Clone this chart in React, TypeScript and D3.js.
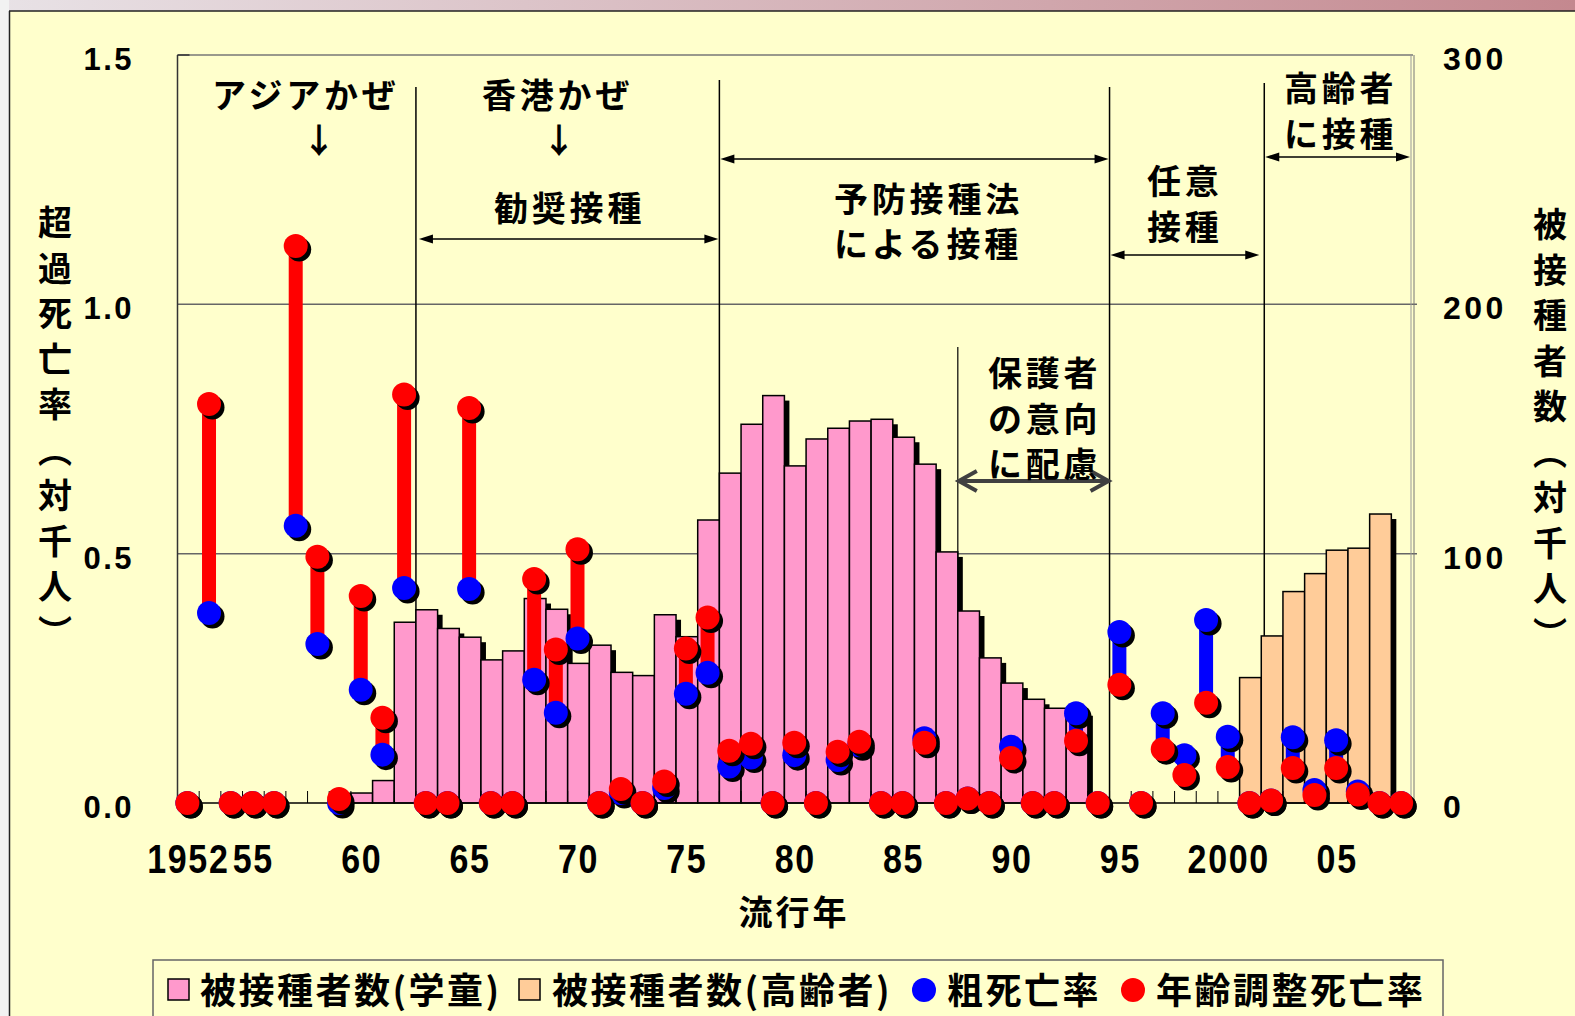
import React from 'react';
import * as d3 from 'd3';

// 流行年
const years = [
  1952, 1953, 1954, 1955, 1956, 1957, 1958, 1959, 1960, 1961,
  1962, 1963, 1964, 1965, 1966, 1967, 1968, 1969, 1970, 1971,
  1972, 1973, 1974, 1975, 1976, 1977, 1978, 1979, 1980, 1981,
  1982, 1983, 1984, 1985, 1986, 1987, 1988, 1989, 1990, 1991,
  1992, 1993, 1994, 1995, 1996, 1997, 1998, 1999, 2000, 2001,
  2002, 2003, 2004, 2005, 2006, 2007, 2008,
];

// 被接種者数(学童) 対千人
const schoolVaccinated = [
  null, null, null, null, null, null, null, null, 4, 9,
  72.5, 77.5, 70, 66.5, 57.4, 61, 82, 77.7, 56, 63.3,
  52.4, 51.1, 75.5, 66.7, 113.5, 132.3, 151.9, 163.4, 135.2, 146,
  150.3, 153.2, 153.9, 146.7, 135.9, 100.7, 77, 58.2, 48.1, 41.6,
  38, 37, null, null, null, null, null, null, null, null,
  null, null, null, null, null, null, null,
];

// 被接種者数(高齢者) 対千人
const elderlyVaccinated = [
  null, null, null, null, null, null, null, null, null, null,
  null, null, null, null, null, null, null, null, null, null,
  null, null, null, null, null, null, null, null, null, null,
  null, null, null, null, null, null, null, null, null, null,
  null, null, null, null, null, null, null, null, null, 50.3,
  67, 84.8, 92, 101.4, 102.2, 115.9, null,
];

// 粗死亡率
const crudeRate = [
  0, 0.381, 0, 0, 0, 0.556, 0.319, 0, 0.227, 0.097,
  0.431, 0, 0, 0.429, 0, 0, 0.247, 0.181, 0.33, 0,
  0.02, 0, 0.03, 0.219, 0.261, 0.073, 0.091, 0, 0.096, 0,
  0.086, 0.116, 0, 0, 0.13, 0, 0.009, 0, 0.113, 0,
  0, 0.18, 0, 0.343, 0, 0.18, 0.096, 0.367, 0.133, 0,
  0.005, 0.132, 0.026, 0.126, 0.023, 0, 0,
];

// 年齢調整死亡率
const adjustedRate = [
  0, 0.8, 0, 0, 0, 1.117, 0.494, 0.008, 0.415, 0.171,
  0.819, 0, 0, 0.792, 0, 0, 0.449, 0.308, 0.509, 0,
  0.028, 0, 0.043, 0.31, 0.372, 0.105, 0.119, 0, 0.121, 0,
  0.103, 0.123, 0, 0, 0.121, 0, 0.009, 0, 0.09, 0,
  0, 0.125, 0, 0.237, 0, 0.108, 0.056, 0.201, 0.072, 0,
  0.005, 0.07, 0.016, 0.07, 0.017, 0, 0,
];

const xTickYears = [1952, 1955, 1960, 1965, 1970, 1975, 1980, 1985, 1990, 1995, 2000, 2005];
const xTickLabels = ['1952', '55', '60', '65', '70', '75', '80', '85', '90', '95', '2000', '05'];
const leftTicks = [0, 0.5, 1.0, 1.5];
const rightTicks = [0, 100, 200, 300];
const leftTitle = ['超', '過', '死', '亡', '率', '︵', '対', '千', '人', '︶'];
const rightTitle = ['被', '接', '種', '者', '数', '︵', '対', '千', '人', '︶'];

const W = 1575;
const H = 1016;
const plot = { left: 177.5, right: 1413, top: 55, bottom: 803 };
const JP = '"Noto Sans CJK JP", "Noto Sans CJK SC", sans-serif';
const NUM = '"Liberation Sans", Arial, sans-serif';
const RED = '#FF0000';
const BLUE = '#0000FF';

const x = d3.scaleBand<number>().domain(years).range([plot.left, plot.right]).padding(0);
const yL = d3.scaleLinear().domain([0, 1.5]).range([plot.bottom, plot.top]);
const yR = d3.scaleLinear().domain([0, 300]).range([plot.bottom, plot.top]);
const bw = x.bandwidth();
const cx = (yr: number) => (x(yr) as number) + bw / 2 - 1;

const Arrow2 = ({ x1, x2, y }: { x1: number; x2: number; y: number }) => (
  <g>
    <line x1={x1 + 6} x2={x2 - 6} y1={y} y2={y} stroke="#000" strokeWidth={1.5} />
    <path d={`M${x1},${y} L${x1 + 14},${y - 4.5} L${x1 + 14},${y + 4.5} Z`} fill="#000" />
    <path d={`M${x2},${y} L${x2 - 14},${y - 4.5} L${x2 - 14},${y + 4.5} Z`} fill="#000" />
  </g>
);

const Label = ({ lines, lx, ly }: { lines: string[]; lx: number; ly: number[] }) => (
  <g>
    {lines.map((s, i) => (
      <text key={i} x={lx} y={ly[i] + 13} fontFamily={JP} fontWeight={700} fontSize={34} letterSpacing={3.8} fill="#000">
        {s}
      </text>
    ))}
  </g>
);

export default function App() {
  const bars: { year: number; v: number; fill: string }[] = [];
  years.forEach((yr, i) => {
    if (schoolVaccinated[i] != null) bars.push({ year: yr, v: schoolVaccinated[i] as number, fill: '#FF99CC' });
    if (elderlyVaccinated[i] != null) bars.push({ year: yr, v: elderlyVaccinated[i] as number, fill: '#FFCC99' });
  });

  const xl = (yr: number) => x(yr) as number;

  return (
    <svg width={W} height={H} style={{ position: 'absolute', left: 0, top: 0 }}>
      <defs>
        <linearGradient id="topStrip" x1="0" x2="1" y1="0" y2="0">
          <stop offset="0" stopColor="#E8E2E6" />
          <stop offset="1" stopColor="#C4888F" />
        </linearGradient>
      </defs>
      <rect width={W} height={H} fill="#FFFFCC" />
      <rect width={W} height={11} fill="url(#topStrip)" />
      <rect width={9} height={H} fill="#F2F2F2" />
      <line x1={9} x2={W} y1={11} y2={11} stroke="#222" strokeWidth={1.5} />
      <line x1={9.5} x2={9.5} y1={11} y2={H} stroke="#222" strokeWidth={1.5} />

      {/* frame and grid */}
      <line x1={plot.left} x2={plot.right} y1={plot.top} y2={plot.top} stroke="#777" strokeWidth={1.5} />
      {[0.5, 1.0].map((v) => (
        <line key={v} x1={plot.left} x2={plot.right + 4} y1={yL(v)} y2={yL(v)} stroke="#666" strokeWidth={1.5} />
      ))}
      <line x1={plot.left} x2={plot.left} y1={plot.top} y2={plot.bottom} stroke="#333" strokeWidth={1.5} />
      <line x1={plot.left} x2={plot.left + 12} y1={plot.top} y2={plot.top} stroke="#333" strokeWidth={1.5} />
      <line x1={plot.right - 2} x2={plot.right - 2} y1={plot.top} y2={plot.bottom} stroke="#999" strokeWidth={1} />
      <line x1={plot.right + 1} x2={plot.right + 1} y1={plot.top} y2={plot.bottom} stroke="#777" strokeWidth={1} />

      {/* vertical period separators */}
      <line x1={xl(1963)} x2={xl(1963)} y1={87} y2={plot.bottom} stroke="#000" strokeWidth={1.5} />
      <line x1={xl(1977)} x2={xl(1977)} y1={80} y2={plot.bottom} stroke="#000" strokeWidth={1.5} />
      <line x1={xl(1988)} x2={xl(1988)} y1={347} y2={plot.bottom} stroke="#000" strokeWidth={1.2} />
      <line x1={xl(1995)} x2={xl(1995)} y1={87} y2={plot.bottom} stroke="#000" strokeWidth={1.5} />
      <line x1={xl(2002) + 3} x2={xl(2002) + 3} y1={83} y2={plot.bottom} stroke="#000" strokeWidth={1.5} />

      {/* bars */}
      {bars.map((b) => (
        <rect key={'s' + b.year} x={xl(b.year) + 5} y={yR(b.v) + 5} width={bw} height={Math.max(0, plot.bottom - yR(b.v) - 5)} fill="#000" />
      ))}
      {bars.map((b) => (
        <rect key={'b' + b.year} x={xl(b.year)} y={yR(b.v)} width={bw} height={plot.bottom - yR(b.v)} fill={b.fill} stroke="#000" strokeWidth={1.5} />
      ))}

      {/* bottom axis */}
      <line x1={plot.left} x2={plot.right} y1={plot.bottom} y2={plot.bottom} stroke="#000" strokeWidth={1.5} />
      {years.slice(1).map((yr) => (
        <line key={'t' + yr} x1={xl(yr)} x2={xl(yr)} y1={plot.bottom} y2={plot.bottom - 12} stroke="#000" strokeWidth={1} />
      ))}

      {/* annotations */}
      <Arrow2 x1={xl(1963) + 3} x2={xl(1977) - 1} y={239} />
      <Arrow2 x1={xl(1977) + 1} x2={xl(1995) - 1} y={159} />
      <Arrow2 x1={xl(1995) + 1} x2={xl(2002) - 2} y={255} />
      <Arrow2 x1={xl(2002) + 4} x2={plot.right - 3} y={157} />
      <g stroke="#404040" strokeWidth={4} fill="none">
        <line x1={xl(1988) + 1} x2={xl(1995) - 1} y1={481} y2={481} />
        <path d={`M${xl(1988) + 19},${471} L${xl(1988) + 1},${481} L${xl(1988) + 19},${491}`} />
        <path d={`M${xl(1995) - 19},${471} L${xl(1995) - 1},${481} L${xl(1995) - 19},${491}`} />
      </g>
      <Label lines={['アジアかぜ']} lx={212} ly={[95]} />
      <Label lines={['香港かぜ']} lx={482} ly={[95]} />
      <text x={319} y={153} textAnchor="middle" fontFamily={JP} fontWeight={700} fontSize={34}>↓</text>
      <text x={559} y={153} textAnchor="middle" fontFamily={JP} fontWeight={700} fontSize={34}>↓</text>
      <Label lines={['勧奨接種']} lx={494} ly={[208]} />
      <Label lines={['予防接種法', 'による接種']} lx={834} ly={[199, 244]} />
      <Label lines={['保護者', 'の意向', 'に配慮']} lx={988} ly={[373, 419, 464]} />
      <Label lines={['任意', '接種']} lx={1147} ly={[181, 227]} />
      <Label lines={['高齢者', 'に接種']} lx={1284} ly={[88, 134]} />

      {/* death rate stems and points */}
      {years.map((yr, i) => {
        const c = crudeRate[i];
        const a = adjustedRate[i];
        if (Math.abs(a - c) < 0.02) return null;
        return (
          <line key={'st' + yr} x1={cx(yr)} x2={cx(yr)} y1={yL(c)} y2={yL(a)} stroke={a >= c ? RED : BLUE} strokeWidth={14} />
        );
      })}
      {years.map((yr, i) => (
        <g key={'cb' + yr}>
          <circle cx={cx(yr) + 3.5} cy={yL(crudeRate[i]) + 3.5} r={12} fill="#000" />
          <circle cx={cx(yr)} cy={yL(crudeRate[i])} r={12} fill={BLUE} />
        </g>
      ))}
      {years.map((yr, i) => (
        <g key={'cr' + yr}>
          <circle cx={cx(yr) + 3.5} cy={yL(adjustedRate[i]) + 3.5} r={12} fill="#000" />
          <circle cx={cx(yr)} cy={yL(adjustedRate[i])} r={12} fill={RED} />
        </g>
      ))}

      {/* axis tick labels */}
      {leftTicks.map((v) => (
        <text key={'l' + v} x={134} y={yL(v) + 15} textAnchor="end" fontFamily={NUM} fontWeight={700} fontSize={31} letterSpacing={2.5}>
          {v.toFixed(1)}
        </text>
      ))}
      {rightTicks.map((v) => (
        <text key={'r' + v} x={1443} y={yR(v) + 15} fontFamily={NUM} fontWeight={700} fontSize={32} letterSpacing={3.5}>
          {v}
        </text>
      ))}
      {xTickYears.map((yr, i) => (
        <text key={'x' + yr} transform={`translate(${cx(yr) + 1},873) scale(0.85,1)`} textAnchor="middle" fontFamily={NUM} fontWeight={700} fontSize={40} letterSpacing={2}>
          {xTickLabels[i]}
        </text>
      ))}

      {/* axis titles */}
      {leftTitle.map((ch, i) => (
        <text key={'lt' + i} x={55} y={222 + i * 45.5 + 13} textAnchor="middle" fontFamily={JP} fontWeight={700} fontSize={34}>
          {ch}
        </text>
      ))}
      {rightTitle.map((ch, i) => (
        <text key={'rt' + i} x={1550} y={224 + i * 45.5 + 13} textAnchor="middle" fontFamily={JP} fontWeight={700} fontSize={34}>
          {ch}
        </text>
      ))}
      <text x={794} y={912 + 13} textAnchor="middle" fontFamily={JP} fontWeight={700} fontSize={34} letterSpacing={3}>
        流行年
      </text>

      {/* legend */}
      <rect x={153} y={960} width={1290} height={80} fill="none" stroke="#666" strokeWidth={1.5} />
      <rect x={168} y={979} width={21} height={21} fill="#FF99CC" stroke="#000" strokeWidth={1.5} />
      <text x={200} y={990 + 14} fontFamily={JP} fontWeight={700} fontSize={36} letterSpacing={2.5}>被接種者数(学童)</text>
      <rect x={519} y={979} width={21} height={21} fill="#FFCC99" stroke="#000" strokeWidth={1.5} />
      <text x={552} y={990 + 14} fontFamily={JP} fontWeight={700} fontSize={36} letterSpacing={2.5}>被接種者数(高齢者)</text>
      <circle cx={924} cy={990} r={12} fill={BLUE} />
      <text x={947} y={990 + 14} fontFamily={JP} fontWeight={700} fontSize={36} letterSpacing={2.5}>粗死亡率</text>
      <circle cx={1133} cy={990} r={12} fill={RED} />
      <text x={1156} y={990 + 14} fontFamily={JP} fontWeight={700} fontSize={36} letterSpacing={2.5}>年齢調整死亡率</text>
    </svg>
  );
}
